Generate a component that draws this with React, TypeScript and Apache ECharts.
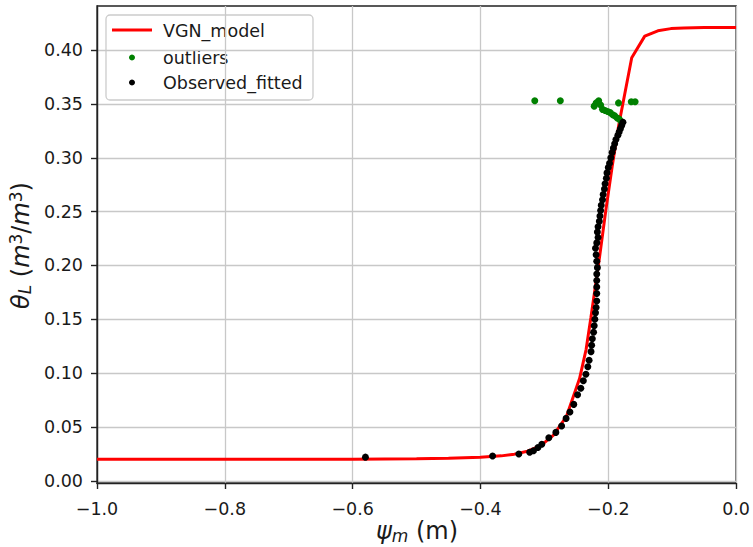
import React, { useEffect, useRef } from "react";
import * as echarts from "echarts";

// ---- data ----
const xTickValues = [-1.0, -0.8, -0.6, -0.4, -0.2, 0.0];
const yTickValues = [0.0, 0.05, 0.1, 0.15, 0.2, 0.25, 0.3, 0.35, 0.4];
const legendNames = ["VGN_model", "outliers", "Observed_fitted"];

const modelPsi = [
  -1.0, -0.9, -0.8, -0.7, -0.6, -0.5, -0.45, -0.4, -0.3673, -0.3469, -0.3265,
  -0.3061, -0.2857, -0.2653, -0.2449, -0.2347, -0.2271, -0.2143, -0.2041,
  -0.1939, -0.1837, -0.1633, -0.1429, -0.1224, -0.102, -0.0816, -0.05, 0.0,
];
const modelTheta = [
  0.02, 0.02, 0.02, 0.02, 0.0201, 0.0205, 0.021, 0.022, 0.0232, 0.0248, 0.0275,
  0.0325, 0.0425, 0.06, 0.095, 0.122, 0.152, 0.205, 0.25, 0.292, 0.33, 0.393,
  0.413, 0.418, 0.42, 0.4205, 0.421, 0.421,
];

const outlierPsi = [
  -0.315, -0.275, -0.222, -0.219, -0.215, -0.212, -0.209, -0.205, -0.201,
  -0.197, -0.193, -0.19, -0.186, -0.183, -0.18, -0.184, -0.164, -0.158,
];
const outlierTheta = [
  0.353, 0.353, 0.348, 0.351, 0.353, 0.349, 0.345, 0.344, 0.343, 0.342, 0.34,
  0.339, 0.337, 0.336, 0.334, 0.351, 0.352, 0.352,
];

const observedPsi = [
  -0.58, -0.381, -0.34, -0.323, -0.317, -0.31, -0.304, -0.293, -0.282, -0.273,
  -0.266, -0.26, -0.254, -0.248, -0.243, -0.239, -0.235, -0.232, -0.23, -0.227,
  -0.226, -0.225, -0.223, -0.222, -0.221, -0.22, -0.219, -0.218, -0.218, -0.218,
  -0.218, -0.218, -0.217, -0.218, -0.219, -0.22, -0.218, -0.216, -0.217, -0.216,
  -0.214, -0.213, -0.212, -0.211, -0.209, -0.208, -0.206, -0.205, -0.203,
  -0.202, -0.2, -0.198, -0.196, -0.194, -0.192, -0.19, -0.188, -0.185, -0.183,
  -0.181, -0.179, -0.177,
];
const observedTheta = [
  0.022, 0.023, 0.025, 0.0266, 0.028, 0.031, 0.034, 0.04, 0.045, 0.051, 0.058,
  0.064, 0.071, 0.08, 0.086, 0.093, 0.099, 0.106, 0.112, 0.12, 0.126, 0.132,
  0.138, 0.144, 0.15, 0.156, 0.161, 0.167, 0.174, 0.18, 0.186, 0.192, 0.198,
  0.204, 0.21, 0.216, 0.221, 0.226, 0.231, 0.236, 0.241, 0.246, 0.251, 0.256,
  0.261, 0.266, 0.271, 0.276, 0.281, 0.286, 0.291, 0.295, 0.3, 0.305, 0.309,
  0.313, 0.317, 0.321, 0.324, 0.327, 0.33, 0.333,
];

const FONT = "DejaVu Sans";
const TEXT = "#1a1a1a";
const SPINE = "#222222";
const GRID = "#c8c8c8";

const mathRich = {
  i: { fontFamily: FONT, fontStyle: "italic", fontSize: 24, lineHeight: 26, fill: TEXT },
  n: { fontFamily: FONT, fontSize: 24, lineHeight: 26, fill: TEXT },
  sub: { fontFamily: FONT, fontStyle: "italic", fontSize: 17, lineHeight: 14, verticalAlign: "bottom", fill: TEXT },
  sup: { fontFamily: FONT, fontSize: 17, lineHeight: 20, verticalAlign: "top", fill: TEXT },
};

export default function App() {
  const ref = useRef<HTMLDivElement>(null);

  useEffect(() => {
    document.body.style.margin = "0";
    if (!ref.current) return;
    const chart = echarts.init(ref.current, null, { renderer: "svg" });

    const fmtX = (v: number) => v.toFixed(1).replace("-", "\u2212");
    const fmtY = (v: number) => v.toFixed(2);

    const option: any = {
      animation: false,
      backgroundColor: "#ffffff",
      grid: {
        left: 97,
        top: 6,
        width: 640,
        height: 477,
        show: true,
        borderColor: SPINE,
        borderWidth: 1.4,
        backgroundColor: "transparent",
      },
      xAxis: {
        type: "value",
        min: -1,
        max: 0,
        interval: 0.2,
        axisLine: { show: true, onZero: false, lineStyle: { color: SPINE, width: 1.4 } },
        axisTick: { show: true, inside: false, length: 6, lineStyle: { color: SPINE, width: 1.4 } },
        axisLabel: {
          formatter: fmtX,
          fontFamily: FONT,
          fontSize: 17.5,
          color: TEXT,
          margin: 17,
          showMinLabel: true,
          showMaxLabel: true,
        },
        splitLine: { show: true, lineStyle: { color: GRID, width: 1.3 } },
      },
      yAxis: {
        type: "value",
        min: -0.002,
        max: 0.441,
        axisLine: { show: true, onZero: false, lineStyle: { color: SPINE, width: 1.4 } },
        axisTick: {
          show: true,
          inside: false,
          length: 6,
          customValues: yTickValues,
          lineStyle: { color: SPINE, width: 1.4 },
        },
        axisLabel: {
          customValues: yTickValues,
          formatter: fmtY,
          fontFamily: FONT,
          fontSize: 17.5,
          color: TEXT,
          margin: 14,
        },
        splitLine: { show: true, lineStyle: { color: GRID, width: 1.3 } },
      },
      series: [
        {
          name: legendNames[0],
          type: "line",
          data: modelPsi.map((x, i) => [x, modelTheta[i]]),
          symbol: "none",
          showSymbol: false,
          lineStyle: { color: "#ff0000", width: 3 },
          itemStyle: { color: "#ff0000" },
          z: 2,
        },
        {
          name: legendNames[1],
          type: "scatter",
          data: outlierPsi.map((x, i) => [x, outlierTheta[i]]),
          symbol: "circle",
          symbolSize: 7,
          itemStyle: { color: "#008000", opacity: 1 },
          z: 3,
        },
        {
          name: legendNames[2],
          type: "scatter",
          data: observedPsi.map((x, i) => [x, observedTheta[i]]),
          symbol: "circle",
          symbolSize: 7,
          itemStyle: { color: "#000000", opacity: 1 },
          z: 4,
        },
      ],
      graphic: [
        {
          type: "group",
          z: 100,
          children: [
            {
              type: "rect",
              shape: { x: 106, y: 15, width: 207, height: 85, r: 4 },
              style: { fill: "rgba(255,255,255,0.8)", stroke: "#cccccc", lineWidth: 1.3 },
            },
            {
              type: "line",
              shape: { x1: 112, y1: 30, x2: 152, y2: 30 },
              style: { stroke: "#ff0000", lineWidth: 3 },
            },
            { type: "circle", shape: { cx: 132, cy: 57.5, r: 3 }, style: { fill: "#008000" } },
            { type: "circle", shape: { cx: 132, cy: 82.5, r: 3 }, style: { fill: "#000000" } },
            {
              type: "text",
              x: 163,
              y: 30.5,
              style: { text: legendNames[0], fontFamily: FONT, fontSize: 17.5, fill: TEXT, verticalAlign: "middle" },
            },
            {
              type: "text",
              x: 163,
              y: 57.5,
              style: { text: legendNames[1], fontFamily: FONT, fontSize: 17.5, fill: TEXT, verticalAlign: "middle" },
            },
            {
              type: "text",
              x: 163,
              y: 82.5,
              style: { text: legendNames[2], fontFamily: FONT, fontSize: 17.5, fill: TEXT, verticalAlign: "middle" },
            },
          ],
        },
        {
          type: "text",
          x: 417,
          y: 531,
          z: 100,
          style: {
            text: "{i|ψ}{sub|m}{n| (m)}",
            rich: mathRich,
            align: "center",
            verticalAlign: "middle",
          },
        },
        {
          type: "text",
          x: 20.5,
          y: 245.5,
          rotation: Math.PI / 2,
          z: 100,
          style: {
            text: "{i|θ}{sub|L}{n| (}{i|m}{sup|3}{n|/}{i|m}{sup|3}{n|)}",
            rich: mathRich,
            align: "center",
            verticalAlign: "middle",
          },
        },
      ],
    };

    chart.setOption(option);
    return () => chart.dispose();
  }, []);

  return <div ref={ref} style={{ width: 753, height: 547 }} />;
}
